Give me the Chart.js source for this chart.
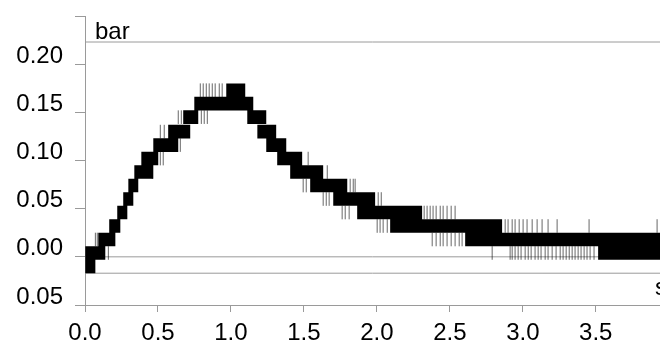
<!DOCTYPE html>
<html>
<head>
<meta charset="utf-8">
<script src="https://cdn.jsdelivr.net/npm/chart.js@4"></script>
<style>
  html, body { margin: 0; padding: 0; background: #fff; overflow: hidden; }
  #wrap { width: 660px; height: 341px; position: relative; }
</style>
</head>
<body>
<div id="wrap"><canvas id="pressureChart"></canvas></div>
<script>
// axis ticks
const xTickValues = [0, 0.5, 1, 1.5, 2, 2.5, 3, 3.5];
const xTickLabels = ['0.0', '0.5', '1.0', '1.5', '2.0', '2.5', '3.0', '3.5'];
const yTickValues = [-0.05, 0, 0.05, 0.1, 0.15, 0.2, 0.25];
const yTickLabels = ['0.05', '0.00', '0.05', '0.10', '0.15', '0.20', ''];
const xUnit = 's';
const yUnit = 'bar';

// quantised signal: each block holds one level from start to end (s)
const blockStart = [0.002, 0.002, 0.091, 0.166, 0.221, 0.262, 0.297, 0.338, 0.386, 0.468, 0.570, 0.673, 0.749,
  0.968, 1.112, 1.181, 1.242, 1.317, 1.406, 1.543, 1.701, 1.865, 2.091, 2.605, 3.516];
const blockEnd = [0.071, 0.139, 0.208, 0.242, 0.290, 0.331, 0.365, 0.468, 0.502, 0.639, 0.721, 0.776, 1.153,
  1.098, 1.242, 1.310, 1.379, 1.488, 1.632, 1.797, 1.988, 2.310, 2.858, 3.940, 3.940];
const blockValue = [-0.010, 0.004, 0.018, 0.032, 0.046, 0.060, 0.074, 0.088, 0.102, 0.116, 0.130, 0.145, 0.159,
  0.173, 0.145, 0.130, 0.116, 0.102, 0.088, 0.074, 0.060, 0.046, 0.032, 0.018, 0.004];

// single-sample flickers to a neighbouring level
const spikeValues = [0.004, 0.018, 0.032, 0.046, 0.060, 0.074, 0.088, 0.102, 0.116, 0.130, 0.145, 0.173];
const spikeTimes = [
  [0.160, 2.790, 2.913, 2.927, 2.947, 2.968, 2.988, 3.016, 3.037, 3.057, 3.084, 3.105, 3.125, 3.153, 3.173,
    3.201, 3.228, 3.256, 3.276, 3.297, 3.318, 3.338, 3.358, 3.379, 3.399, 3.420, 3.440, 3.461, 3.488],
  [0.071, 0.084, 2.379, 2.406, 2.434, 2.454, 2.481, 2.509, 2.536, 2.564, 2.584],
  [2.002, 2.022, 2.043, 2.071, 2.879, 2.899, 2.927, 2.947, 2.975, 3.002, 3.029, 3.064, 3.098, 3.132, 3.173,
    3.235, 3.454, 3.920],
  [1.762, 1.783, 1.810, 2.324, 2.344, 2.365, 2.385, 2.406, 2.434, 2.454, 2.481, 2.509, 2.536],
  [1.632, 1.653, 1.673, 2.009, 2.030],
  [1.495, 1.516, 1.817, 1.838, 1.851],
  [0.461, 1.660],
  [0.516, 0.536, 1.529],
  [0.653],
  [0.516, 0.543],
  [0.639, 0.660, 0.797, 0.817, 0.838],
  [0.790, 0.810, 0.831, 0.851, 0.872, 0.892, 0.920, 0.940],
];

// horizontal reference lines (bar)
const refLineValues = [0.223, 0, -0.017];

const X_MAX = 3.94;
const FONT = '"Liberation Sans", Arial, sans-serif';
const GREY = '#9a9a9a';

const blockPoints = [];
blockStart.forEach((s, i) => {
  blockPoints.push({ x: s, y: blockValue[i] });
  blockPoints.push({ x: blockEnd[i], y: blockValue[i] });
  blockPoints.push({ x: blockEnd[i], y: null });
});

const spikePoints = [];
spikeTimes.forEach((times, i) => {
  times.forEach(t => spikePoints.push({ x: t, y: spikeValues[i] }));
});

const refDatasets = refLineValues.map(v => ({
  type: 'line',
  data: [{ x: 0, y: v }, { x: X_MAX, y: v }],
  borderColor: GREY,
  borderWidth: 1,
  pointRadius: 0,
  order: 10,
}));

const unitLabels = {
  id: 'unitLabels',
  afterDraw(chart) {
    const { ctx, chartArea } = chart;
    ctx.save();
    ctx.font = `24px ${FONT}`;
    ctx.fillStyle = '#000';
    ctx.textAlign = 'left';
    ctx.textBaseline = 'alphabetic';
    ctx.fillText(yUnit, chartArea.left + 10, chartArea.top + 23);
    ctx.fillText(xUnit, chartArea.right - 5, chartArea.bottom - 10);
    ctx.restore();
  },
};

// no extra room for overhanging labels, the layout padding decides
function noScalePadding(scale) {
  scale.paddingTop = 0;
  scale.paddingBottom = 0;
  scale.paddingLeft = 0;
  scale.paddingRight = 0;
}

const ctx = document.getElementById('pressureChart').getContext('2d');
new Chart(ctx, {
  type: 'line',
  data: {
    datasets: [
      {
        data: spikePoints,
        showLine: false,
        pointStyle: 'line',
        rotation: 90,
        pointRadius: 6.8,
        pointBorderWidth: 1,
        pointBorderColor: 'rgba(0,0,0,0.6)',
        order: 0,
      },
      {
        data: blockPoints,
        borderColor: '#000',
        borderWidth: 13.6,
        borderCapStyle: 'butt',
        pointRadius: 0,
        spanGaps: false,
        tension: 0,
        order: 1,
      },
      ...refDatasets,
    ],
  },
  options: {
    responsive: true,
    maintainAspectRatio: false,
    animation: false,
    layout: { autoPadding: false, padding: { top: 16, right: 0, left: 0, bottom: 0 } },
    plugins: {
      legend: { display: false },
      tooltip: { enabled: false },
    },
    scales: {
      x: {
        type: 'linear',
        min: 0,
        max: X_MAX,
        afterBuildTicks: axis => { axis.ticks = xTickValues.map(v => ({ value: v })); },
        afterFit: scale => { scale.height = 36; noScalePadding(scale); },
        grid: { drawOnChartArea: false, drawTicks: true, tickLength: 7, color: GREY },
        border: { display: true, color: GREY },
        ticks: {
          color: '#000',
          font: { family: FONT, size: 24 },
          padding: 7,
          maxRotation: 0,
          autoSkip: false,
          callback: (v, i) => xTickLabels[i],
        },
      },
      y: {
        type: 'linear',
        min: -0.05,
        max: 0.25,
        afterBuildTicks: axis => { axis.ticks = yTickValues.map(v => ({ value: v })); },
        afterFit: scale => { scale.width = 85; noScalePadding(scale); },
        grid: { drawOnChartArea: false, drawTicks: true, tickLength: 10, color: GREY },
        border: { display: true, color: GREY },
        ticks: {
          color: '#000',
          font: { family: FONT, size: 24 },
          padding: 12,
          labelOffset: -8,
          autoSkip: false,
          callback: (v, i) => yTickLabels[i],
        },
      },
    },
  },
  plugins: [unitLabels],
});
</script>
</body>
</html>
